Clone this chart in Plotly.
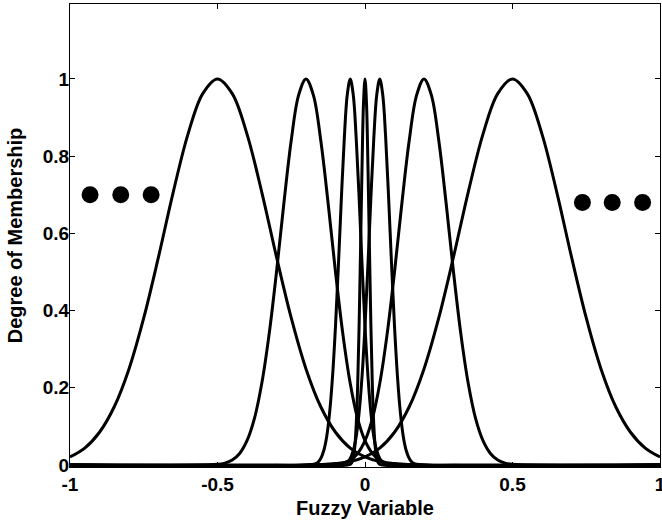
import plotly.graph_objects as go

# membership curves (x, degree)
c1_x = [-1.0, -0.95, -0.9, -0.85, -0.8, -0.75, -0.7, -0.65, -0.6, -0.55, -0.5,
        -0.45, -0.4, -0.35, -0.3, -0.25, -0.2, -0.15, -0.1, -0.05, 0.0,
        0.05, 0.1, 0.2, 0.3, 1.0]
c1_y = [0.021, 0.044, 0.085, 0.151, 0.249, 0.381, 0.539, 0.707, 0.857, 0.962, 1.0,
        0.962, 0.857, 0.707, 0.539, 0.381, 0.249, 0.151, 0.085, 0.044, 0.021,
        0.009, 0.004, 0.0, 0.0, 0.0]

c2_x = [-1.0, -0.5, -0.475, -0.45, -0.425, -0.4, -0.375, -0.35, -0.325, -0.3,
        -0.275, -0.25, -0.225, -0.2, -0.175, -0.15, -0.125, -0.1, -0.075,
        -0.05, -0.025, 0.0, 0.025, 0.05, 0.075, 0.1, 1.0]
c2_y = [0.0, 0.002, 0.005, 0.013, 0.030, 0.063, 0.120, 0.211, 0.339, 0.500,
        0.678, 0.841, 0.958, 1.0, 0.958, 0.841, 0.678, 0.500, 0.339,
        0.211, 0.120, 0.063, 0.030, 0.013, 0.005, 0.002, 0.0]

c3_x = [-1.0, -0.17, -0.16, -0.15, -0.14, -0.13, -0.12, -0.11, -0.1, -0.09,
        -0.08, -0.07, -0.06, -0.05, -0.04, -0.03, -0.02, -0.01, 0.0,
        0.01, 0.02, 0.03, 0.04, 0.05, 0.06, 0.07, 1.0]
c3_y = [0.0, 0.003, 0.007, 0.017, 0.037, 0.073, 0.135, 0.230, 0.360, 0.520,
        0.693, 0.849, 0.960, 1.0, 0.960, 0.849, 0.693, 0.520, 0.360,
        0.230, 0.135, 0.073, 0.037, 0.017, 0.007, 0.003, 0.0]

c4_x = [-1.0, -0.05, -0.045, -0.04, -0.035, -0.03, -0.025, -0.02, -0.015, -0.01,
        -0.005, 0.0, 0.005, 0.01, 0.015, 0.02, 0.025, 0.03, 0.035, 0.04,
        0.045, 0.05, 1.0]
c4_y = [0.0, 0.002, 0.006, 0.017, 0.044, 0.101, 0.203, 0.360, 0.563, 0.775,
        0.938, 1.0, 0.938, 0.775, 0.563, 0.360, 0.203, 0.101, 0.044, 0.017,
        0.006, 0.002, 0.0]

c5_x = [-1.0, -0.07, -0.06, -0.05, -0.04, -0.03, -0.02, -0.01, 0.0, 0.01,
        0.02, 0.03, 0.04, 0.05, 0.06, 0.07, 0.08, 0.09, 0.1,
        0.11, 0.12, 0.13, 0.14, 0.15, 0.16, 0.17, 1.0]
c5_y = [0.0, 0.003, 0.007, 0.017, 0.037, 0.073, 0.135, 0.230, 0.360, 0.520,
        0.693, 0.849, 0.960, 1.0, 0.960, 0.849, 0.693, 0.520, 0.360,
        0.230, 0.135, 0.073, 0.037, 0.017, 0.007, 0.003, 0.0]

c6_x = [-1.0, -0.1, -0.075, -0.05, -0.025, 0.0, 0.025, 0.05, 0.075, 0.1,
        0.125, 0.15, 0.175, 0.2, 0.225, 0.25, 0.275, 0.3, 0.325,
        0.35, 0.375, 0.4, 0.425, 0.45, 0.475, 0.5, 1.0]
c6_y = [0.0, 0.002, 0.005, 0.013, 0.030, 0.063, 0.120, 0.211, 0.339, 0.500,
        0.678, 0.841, 0.958, 1.0, 0.958, 0.841, 0.678, 0.500, 0.339,
        0.211, 0.120, 0.063, 0.030, 0.013, 0.005, 0.002, 0.0]

c7_x = [-1.0, -0.3, -0.2, -0.1, -0.05, 0.0, 0.05, 0.1, 0.15, 0.2, 0.25, 0.3,
        0.35, 0.4, 0.45, 0.5, 0.55, 0.6, 0.65, 0.7, 0.75, 0.8, 0.85, 0.9,
        0.95, 1.0]
c7_y = [0.0, 0.0, 0.0, 0.004, 0.009, 0.021, 0.044, 0.085, 0.151, 0.249, 0.381,
        0.539, 0.707, 0.857, 0.962, 1.0, 0.962, 0.857, 0.707, 0.539, 0.381,
        0.249, 0.151, 0.085, 0.044, 0.021]

curves = [(c1_x, c1_y), (c2_x, c2_y), (c3_x, c3_y), (c4_x, c4_y),
          (c5_x, c5_y), (c6_x, c6_y), (c7_x, c7_y)]

# the "..." dots on either side
dots_left_x = [-0.932, -0.828, -0.725]
dots_left_y = [0.70, 0.70, 0.70]
dots_right_x = [0.737, 0.838, 0.941]
dots_right_y = [0.68, 0.68, 0.68]

x_ticks = [-1, -0.5, 0, 0.5, 1]
x_ticktext = ["-1", "-0.5", "0", "0.5", "1"]
y_ticks = [0, 0.2, 0.4, 0.6, 0.8, 1]
y_ticktext = ["0", "0.2", "0.4", "0.6", "0.8", "1"]

FONT = "Liberation Sans, Arial, sans-serif"
TICK = dict(family=FONT, size=19, color="black", weight="bold")
TITLE = dict(family=FONT, size=20, color="black", weight="bold")

fig = go.Figure()
for cx, cy in curves:
    fig.add_trace(go.Scatter(
        x=cx, y=cy, mode="lines",
        line=dict(color="black", width=3, shape="spline", smoothing=1.0),
        hoverinfo="skip",
    ))

fig.add_trace(go.Scatter(
    x=dots_left_x + dots_right_x, y=dots_left_y + dots_right_y,
    mode="markers", marker=dict(color="black", size=17), hoverinfo="skip",
))

axis_common = dict(
    showgrid=False, zeroline=False, showline=True, linecolor="black",
    linewidth=1, mirror="ticks", ticks="inside", ticklen=5,
    tickcolor="black", tickwidth=1, automargin=False,
    tickfont=TICK, ticklabeloverflow="allow",
)

fig.update_xaxes(
    range=[-1, 1], tickvals=x_ticks, ticktext=x_ticktext, ticklabelstandoff=0,
    title=dict(text="Fuzzy Variable", standoff=7, font=TITLE),
    **axis_common,
)
fig.update_yaxes(
    range=[-0.005, 1.194], tickvals=y_ticks, ticktext=y_ticktext, ticklabelstandoff=-4,
    title=dict(text="Degree of Membership", standoff=14, font=TITLE),
    **axis_common,
)

fig.update_layout(
    width=662, height=520,
    margin=dict(l=70, r=2, t=4, b=53),
    paper_bgcolor="white", plot_bgcolor="white",
    showlegend=False,
)

# page body has a default 8px margin; drop it so the figure sits at the corner
fig.write_html("out.html", config={"displayModeBar": False},
               post_script="document.body.style.margin='0';")
